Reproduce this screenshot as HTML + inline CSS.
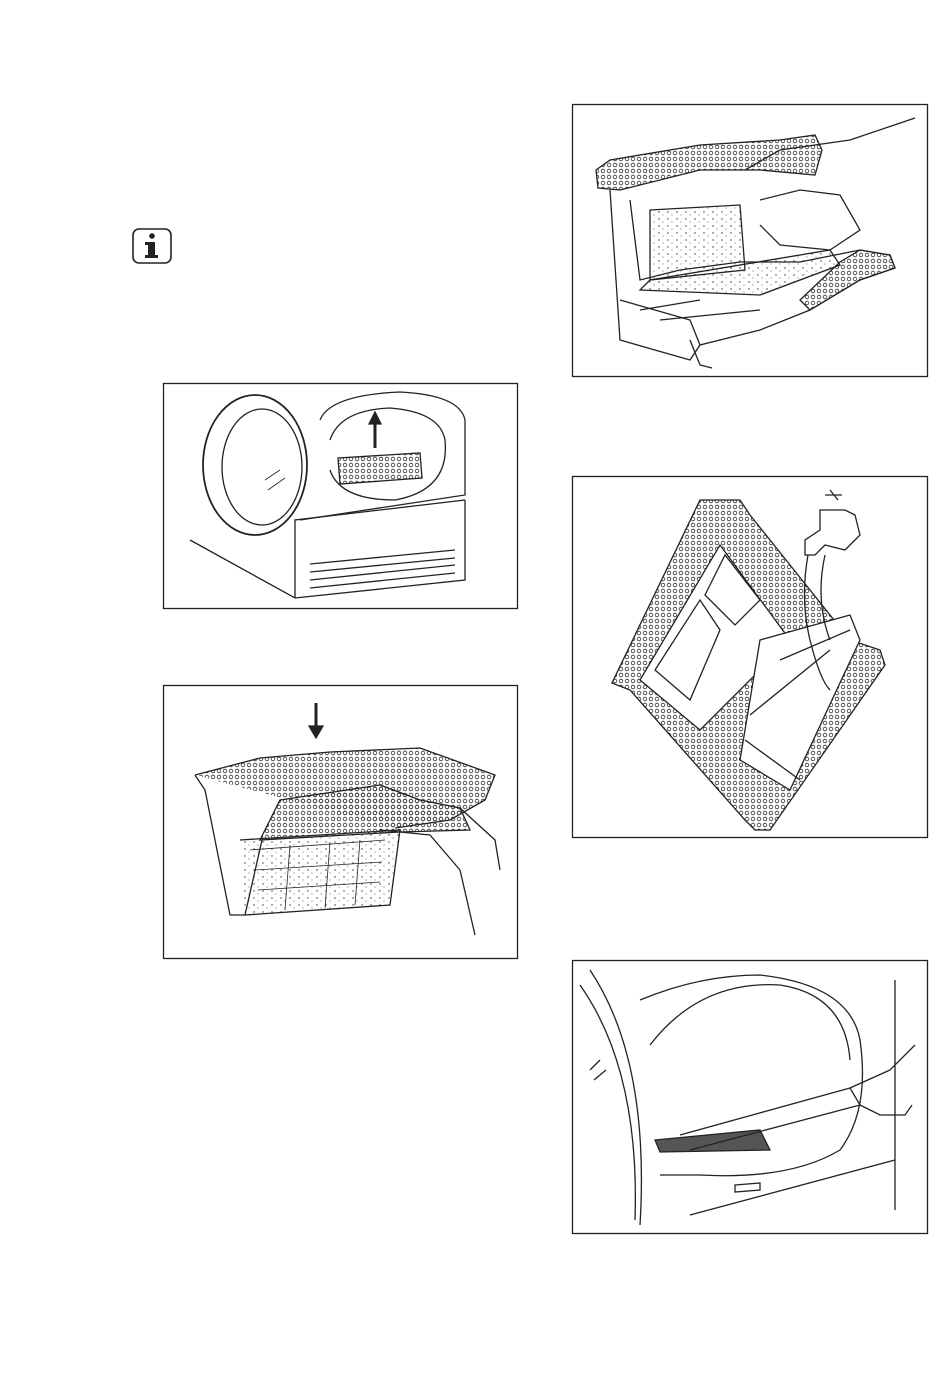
<!DOCTYPE html>
<html><head><meta charset="utf-8"><style>
html,body{margin:0;padding:0;background:#fff;width:950px;height:1374px;overflow:hidden}
svg{position:absolute;left:0;top:0}
</style></head><body>
<svg width="950" height="1374" viewBox="0 0 950 1374" fill="none" stroke="#222" stroke-width="1.3">
<defs>
<pattern id="mesh" width="6" height="6" patternUnits="userSpaceOnUse"><circle cx="3" cy="3" r="1.8" fill="none" stroke="#333" stroke-width="0.8"/></pattern>
<pattern id="spk" width="9" height="7" patternUnits="userSpaceOnUse"><circle cx="2" cy="2" r="0.7" fill="#333" stroke="none"/><circle cx="6" cy="5" r="0.5" fill="#333" stroke="none"/></pattern>
</defs>
<!-- info icon -->
<rect x="133" y="229" width="38" height="34" rx="6" stroke-width="1.6"/>
<circle cx="152" cy="236" r="2.8" fill="#222" stroke="none"/>
<rect x="148" y="242" width="7" height="16" fill="#222" stroke="none"/>
<rect x="145" y="242" width="5" height="3" fill="#222" stroke="none"/>
<rect x="145" y="255" width="13" height="3" fill="#222" stroke="none"/>

<!-- Box A -->
<rect x="572.5" y="104.5" width="355" height="272"/>
<g>
<path d="M596 170 L610 160 L700 145 L780 140 L815 135 L822 150 L815 175 L760 170 L700 170 L620 190 L598 188 Z" fill="url(#mesh)"/>
<path d="M610 190 L620 340 L690 360 L700 345 L760 330 L810 310 L860 280 L895 268 L890 255 L860 250 L800 262 L740 262 L680 270 L640 280 L630 200"/>
<path d="M810 310 L860 280 L895 268 L890 255 L860 250 L840 262 L800 300 Z" fill="url(#mesh)"/>
<path d="M650 210 L740 205 L745 270 L650 280 Z" fill="url(#spk)"/>
<path d="M640 290 L760 295 L840 265 L830 250 L650 280 Z" fill="url(#spk)"/>
<path d="M745 170 L780 150 L850 140 L915 118"/>
<path d="M760 200 L800 190 L840 195 L860 230 L830 250 L780 245 L760 225"/>
<path d="M690 340 L700 365 L712 368"/>
<path d="M620 300 L690 320 L700 345 M640 310 L700 300 M660 320 L760 310"/>
</g>

<!-- Box B -->
<rect x="163.5" y="383.5" width="354" height="225"/>
<g>
<ellipse cx="255" cy="465" rx="52" ry="70" stroke-width="1.8"/>
<ellipse cx="262" cy="467" rx="40" ry="58"/>
<path d="M320 420 Q330 395 400 392 Q460 395 465 420 L465 495 L300 520"/>
<path d="M330 440 Q340 410 390 408 Q440 412 445 440 Q450 490 395 500 Q340 500 330 470"/>
<path d="M338 458 L420 453 L422 478 L340 484 Z" fill="url(#mesh)"/>
<path d="M375 448 L375 422" stroke-width="3"/>
<path d="M369 424 L375 412 L381 424 Z" fill="#222"/>
<path d="M190 540 L295 598 L465 580 L465 500"/>
<path d="M295 598 L295 520 L465 500"/>
<path d="M310 580 L455 565 M310 572 L455 558 M310 588 L455 573 M310 564 L455 550"/>
<path d="M265 480 L280 470 M268 490 L285 478" stroke-width="0.8"/>
</g>

<!-- Box C -->
<rect x="163.5" y="685.5" width="354" height="273"/>
<g>
<path d="M316 703 L316 728" stroke-width="3"/>
<path d="M309 726 L316 738 L323 726 Z" fill="#222"/>
<path d="M195 775 L260 758 L330 752 L420 748 L495 775 L485 800 L450 820 L395 828" fill="url(#mesh)"/>
<path d="M195 775 L205 790 L230 915 L245 915 L262 840"/>
<path d="M240 840 L400 830 L390 905 L245 915" fill="url(#spk)"/>
<path d="M250 850 L385 840 M255 870 L382 862 M258 890 L380 882 M290 845 L285 910 M330 842 L325 908 M360 840 L355 905" stroke-width="0.8"/>
<path d="M280 800 L380 785 L420 800 L460 808 L470 830 L400 832 L260 840 Z" fill="url(#mesh)"/>
<path d="M380 830 L430 835 L460 870 L475 935 M460 808 L495 840 L500 870"/>
</g>

<!-- Box D -->
<rect x="572.5" y="476.5" width="355" height="361"/>
<g>
<path d="M612 683 L700 500 L740 500 L750 515 L850 640 L880 650 L885 665 L770 830 L755 830 L745 820 L630 690 Z" fill="url(#mesh)"/>
<path d="M640 680 L720 545 L790 640 L700 730 Z" fill="#fff"/>
<path d="M655 670 L700 600 L720 630 L690 700 Z M705 595 L725 555 L760 600 L735 625 Z"/>
<path d="M760 640 L850 615 L860 640 L790 790 L740 760 Z" fill="#fff"/>
<path d="M780 660 L850 630 M745 740 L800 780 M750 715 L830 650"/>
<path d="M820 510 L845 510 L855 515 L860 535 L845 550 L825 545 L815 555 L805 555 L805 540 L820 530 Z" fill="#fff"/>
<path d="M830 490 L838 500 M825 495 L842 495"/>
<path d="M808 555 Q800 600 810 640 Q820 680 830 690 M825 555 Q815 600 830 640"/>
</g>

<!-- Box E -->
<rect x="572.5" y="960.5" width="355" height="273"/>
<g>
<path d="M580 985 Q640 1070 635 1220"/>
<path d="M590 970 Q650 1060 640 1225"/>
<path d="M640 1000 Q700 975 760 975 Q850 985 860 1040 Q870 1110 840 1150 Q790 1180 700 1175 L660 1175"/>
<path d="M650 1045 Q700 980 780 985 Q845 995 850 1060"/>
<path d="M895 980 L895 1210"/>
<path d="M655 1140 L760 1130 L770 1150 L660 1152 Z" fill="#555" stroke="#222"/>
<path d="M680 1135 L850 1088 L860 1105 L690 1150"/>
<path d="M850 1088 L890 1070 L915 1045 M860 1105 L880 1115 L905 1115 L912 1105"/>
<path d="M690 1215 L895 1160"/>
<path d="M735 1185 L760 1183 L760 1190 L735 1192 Z"/>
<path d="M590 1070 L600 1060 M594 1080 L606 1070"/>
</g>
</svg>
</body></html>
